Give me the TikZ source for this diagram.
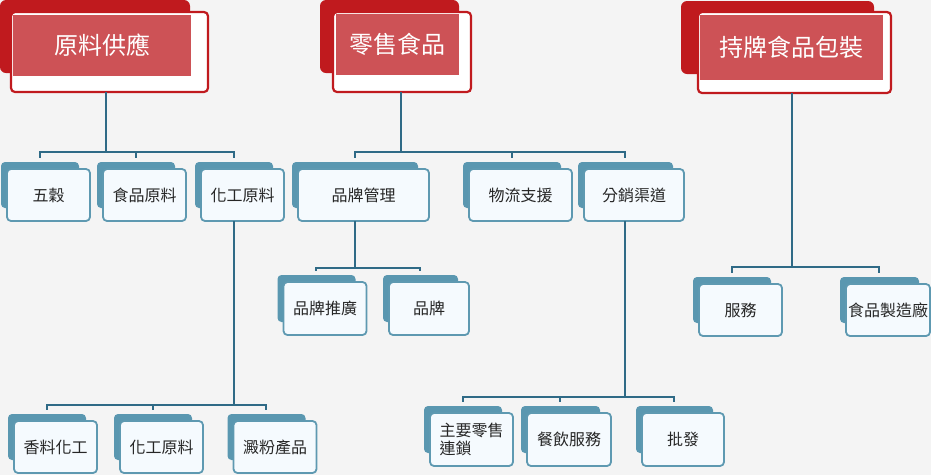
\documentclass[tikz,border=0pt]{standalone}
\usepackage{fontspec}
\newfontfamily\cjk{Noto Sans CJK TC}
\usepackage{tikz}
\usetikzlibrary{calc,positioning}
\definecolor{headdark}{HTML}{C01A1E}
\definecolor{headfill}{HTML}{CD5256}
\definecolor{boxback}{HTML}{5A97B0}
\definecolor{boxedge}{HTML}{5E99B1}
\definecolor{boxfill}{HTML}{F5FAFE}
\definecolor{linkcol}{HTML}{2F6A86}
\definecolor{paper}{HTML}{F4F4F4}
\pgfdeclarelayer{paper}
\pgfdeclarelayer{back}
\pgfsetlayers{paper,back,main}

\begin{document}
\begin{tikzpicture}[x=1pt, y=-1pt,
    headbox/.style={draw=headdark, line width=2.2pt, fill=white, rounded corners=4pt, inner sep=0pt, outer sep=0pt},
    headtext/.style={fill=headfill, text=white, inner sep=0pt, outer sep=0pt, font=\cjk\fontsize{24}{28}\selectfont},
    itembox/.style={draw=boxedge, line width=1.8pt, fill=boxfill, rounded corners=4pt, inner sep=0pt, outer sep=0pt,
        minimum width=83pt, minimum height=52pt, font=\cjk\fontsize{16}{18}\selectfont, text=black!85, align=center},
    link/.style={draw=linkcol, line width=2pt}]
    \begin{pgfonlayer}{paper}
        \fill[paper] (0,0) rectangle (931,475);
    \end{pgfonlayer}
    \useasboundingbox (0,0) rectangle (931,475);

    % headers
    \node[headbox, minimum width=197pt, minimum height=80pt] (hA) at (109.5,52) {};
    \node[headtext, minimum width=178pt, minimum height=61pt] (hAt) at (102,45.5) {原料供應};
    \node[headbox, minimum width=138pt, minimum height=80pt] (hB) at (402,52) {};
    \node[headtext, minimum width=123pt, minimum height=61pt] (hBt) at (397.5,44.5) {零售食品};
    \node[headbox, minimum width=193pt, minimum height=81pt] (hC) at (794.5,52.5) {};
    \node[headtext, minimum width=183pt, minimum height=65pt] (hCt) at (791.5,47.5) {持牌食品包裝};

    % first row
    \node[itembox] (wugu) at (48.5,195) {五穀};
    \node[itembox] (shipin) at (144.5,195) {食品原料};
    \node[itembox] (huagong) at (242.5,195) {化工原料};
    \node[itembox, minimum width=131pt] (pinpai) at (363.5,195) {品牌管理};
    \node[itembox, minimum width=103pt] (wuliu) at (520.5,195) {物流支援};
    \node[itembox, minimum width=100pt] (fenxiao) at (634,195) {分銷渠道};
    \node[itembox, minimum height=53pt] (tuiguang) at (325,308.5) {品牌推廣};
    \node[itembox, minimum width=80pt, minimum height=53pt] (pinpaiB) at (429,308.5) {品牌};
    \node[itembox] (fuwu) at (740.5,310) {服務};
    \node[itembox, minimum width=84pt] (zhizao) at (888,310) {食品製造廠};

    % bottom row
    \node[itembox] (xiangliao) at (55.5,447) {香料化工};
    \node[itembox] (huagongB) at (161.5,447) {化工原料};
    \node[itembox] (dianfen) at (275,447) {澱粉產品};
    \node[itembox, minimum height=53pt, align=left] (zhuyao) at (471.5,439.5) {主要零售\\連鎖};
    \node[itembox, minimum width=84pt, minimum height=53pt] (canyin) at (569,439.5) {餐飲服務};
    \node[itembox, minimum width=82pt, minimum height=53pt] (pifa) at (683,439.5) {批發};

    % back plates
    \begin{pgfonlayer}{back}
        \fill[headdark, rounded corners=6pt] ($(hA.north west)+(-11,-12)$) rectangle ($(hA.south east)+(-18,-19)$);
        \fill[headdark, rounded corners=6pt] ($(hB.north west)+(-13,-12)$) rectangle ($(hB.south east)+(-12,-19)$);
        \fill[headdark, rounded corners=6pt] ($(hC.north west)+(-17,-11)$) rectangle ($(hC.south east)+(-17,-19)$);
        \foreach \n in {wugu,shipin,huagong,pinpai,wuliu,fenxiao,tuiguang,pinpaiB,fuwu,zhizao,xiangliao,huagongB,dianfen,zhuyao,canyin,pifa}
            \fill[boxback, rounded corners=4pt] ($(\n.north west)+(-6,-7)$) rectangle ($(\n.south east)+(-11,-13)$);
    \end{pgfonlayer}

    % connectors
    \coordinate (jA) at ($(hA.south)+(-4,60)$);
    \coordinate (jB) at ($(hB.south)+(-1,60)$);
    \coordinate (jC) at ($(hC.south)+(-3,174)$);
    \coordinate (jD) at ($(huagong.south)+(-9,184)$);
    \coordinate (jE) at ($(pinpai.south)+(-9,47)$);
    \coordinate (jF) at ($(fenxiao.south)+(-9,176)$);
    \foreach \n in {wugu,shipin,huagong}
        \draw[link] ($(hA.south)+(-4,0)$) -- (jA) -| ($(\n.north)+(-9,-11)$);
    \foreach \n in {pinpai,wuliu,fenxiao}
        \draw[link] ($(hB.south)+(-1,0)$) -- (jB) -| ($(\n.north)+(-9,-11)$);
    \foreach \n in {fuwu,zhizao}
        \draw[link] ($(hC.south)+(-3,0)$) -- (jC) -| ($(\n.north)+(-9,-11)$);
    \foreach \n in {xiangliao,huagongB,dianfen}
        \draw[link] ($(huagong.south)+(-9,0)$) -- (jD) -| ($(\n.north)+(-9,-11)$);
    \foreach \n in {tuiguang,pinpaiB}
        \draw[link] ($(pinpai.south)+(-9,0)$) -- (jE) -| ($(\n.north)+(-9,-11)$);
    \foreach \n in {zhuyao,canyin,pifa}
        \draw[link] ($(fenxiao.south)+(-9,0)$) -- (jF) -| ($(\n.north)+(-9,-11)$);
\end{tikzpicture}
\end{document}
